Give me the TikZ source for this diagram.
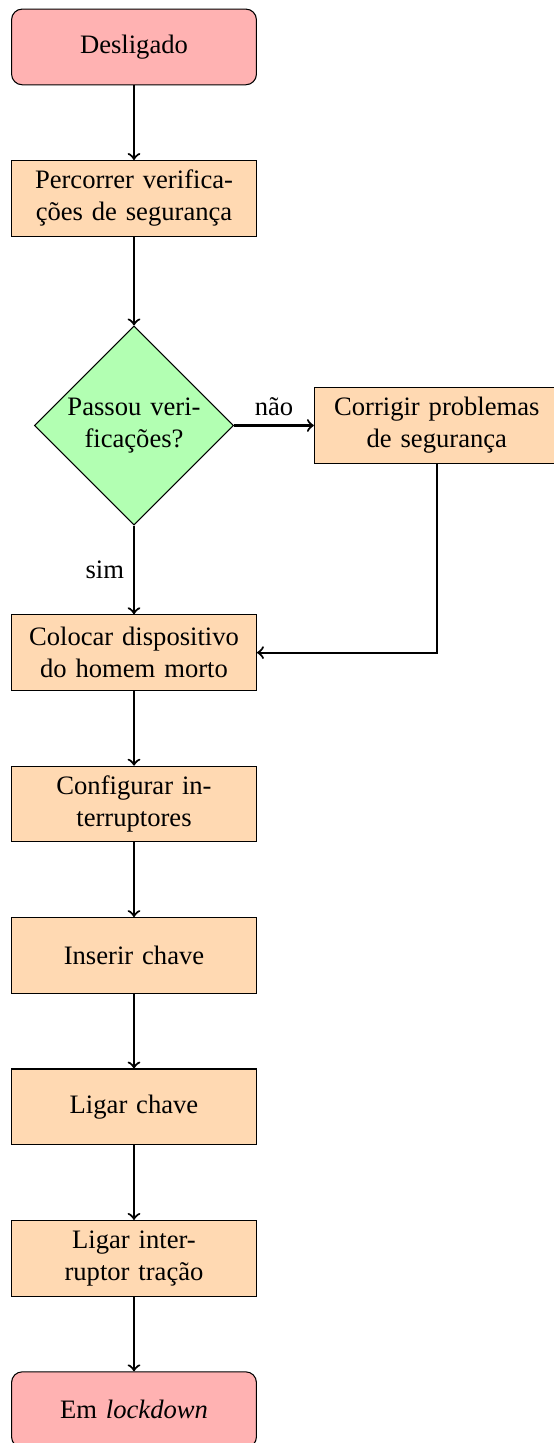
\documentclass[tikz,border=0pt]{standalone}
\usepackage{fontspec}
\setmainfont{Liberation Serif}
\usetikzlibrary{shapes.geometric}

\begin{document}
\begin{tikzpicture}[
		inicio/.style = {rectangle, rounded corners, minimum width=3cm, minimum height=1cm, text width=3cm, align=center, draw=black, fill=red!30},
		processo/.style = {rectangle, minimum width=3cm, minimum height=1cm, text width=3cm, align=center, draw=black, fill=orange!30},
		decisao/.style = {diamond, text width=1.9cm, inner sep=0pt, align=center, draw=black, fill=green!30},
		seta/.style = {thick, ->}
	]
	\useasboundingbox (-1.77,0.62) rectangle (5.535,-18.44);
	
	\node[inicio] (desligado) at (0,0) {Desligado};
	\node[processo] (percorrer) at (0,-2) {Percorrer verifica-\\ções de segurança};
	\node[decisao] (passou) at (0,-5) {Passou veri-\\ficações?};
	\node[processo] (corrigir) at (4,-5) {Corrigir problemas\\de segurança};
	\node[processo] (colocar) at (0,-8) {Colocar dispositivo\\do homem morto};
	\node[processo] (configurar) at (0,-10) {Configurar in-\\terruptores};
	\node[processo] (inserir) at (0,-12) {Inserir chave};
	\node[processo] (ligarchave) at (0,-14) {Ligar chave};
	\node[processo] (ligarinter) at (0,-16) {Ligar inter-\\ruptor tração};
	\node[inicio] (lockdown) at (0,-18) {Em \textit{lockdown}};
	
	\draw[seta] (desligado) -- (percorrer);
	\draw[seta] (percorrer) -- (passou);
	\draw[seta] (passou) -- node[above]{não} (corrigir);
	\draw[seta] (passou) -- node[left]{sim} (colocar);
	\draw[seta] (corrigir) |- (colocar);
	\draw[seta] (colocar) -- (configurar);
	\draw[seta] (configurar) -- (inserir);
	\draw[seta] (inserir) -- (ligarchave);
	\draw[seta] (ligarchave) -- (ligarinter);
	\draw[seta] (ligarinter) -- (lockdown);
\end{tikzpicture}
\end{document}
